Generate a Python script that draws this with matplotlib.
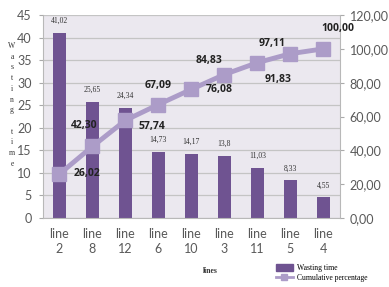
import matplotlib.pyplot as plt
import numpy as np
from matplotlib.patches import Patch
from matplotlib.lines import Line2D

categories = ["line\n2", "line\n8", "line\n12", "line\n6", "line\n10",
              "line\n3", "line\n11", "line\n5", "line\n4"]
wasting_time = [41.02, 25.65, 24.34, 14.73, 14.17, 13.8, 11.03, 8.33, 4.55]
wasting_labels = ["41,02", "25,65", "24,34", "14,73", "14,17", "13,8", "11,03", "8,33", "4,55"]
cumulative = [26.02, 42.30, 57.74, 67.09, 76.08, 84.83, 91.83, 97.11, 100.00]

# label offsets for the cumulative values (pixels), placed like the original
cum_offsets = [(28, 0), (-8, 21), (26, -6), (0, 19), (28, 0),
               (-15, 14), (21, -17), (-18, 10), (15, 20)]

bar_color = "#6f5391"
line_color = "#ac9cc8"
tick_color = "#595959"
font = "Lato"

fig = plt.figure(figsize=(3.89, 2.87), dpi=100)
ax = fig.add_axes([0.1105, 0.2404, 0.763, 0.7073])
ax.set_facecolor("#ebe8ef")
x = np.arange(len(categories))

ax.bar(x, wasting_time, width=0.4, color=bar_color, zorder=2)
ax.set_xlim(-0.5, len(categories) - 0.5)
ax.set_ylim(0, 45)
ax.set_yticks(np.arange(0, 46, 5))
ax.yaxis.grid(True, color="#c4c4c4", linewidth=0.9, zorder=0)
ax.set_axisbelow(True)
ax.set_xticks(x)
ax.set_xticklabels(categories, fontsize=9, color=tick_color, family=font, linespacing=1.3)
ax.tick_params(axis="y", labelsize=9, colors=tick_color, length=3, color="#aaaaaa", pad=5)
ax.tick_params(axis="x", length=0, pad=7)
for lbl in ax.get_yticklabels():
    lbl.set_family(font)
for s in ["top", "right"]:
    ax.spines[s].set_visible(False)
for s in ["left", "bottom"]:
    ax.spines[s].set_color("#b8b8b8")

for xi, v, t in zip(x, wasting_time, wasting_labels):
    ax.annotate(t, (xi, v), xytext=(0, 8), textcoords="offset pixels",
                ha="center", va="bottom", fontsize=5.5, family="Liberation Serif",
                color="#333333")

ax2 = ax.twinx()
ax2.set_ylim(0, 120)
ax2.set_yticks(np.arange(0, 121, 20))
ax2.set_yticklabels([f"{v:.2f}".replace(".", ",") for v in np.arange(0, 121, 20)],
                    fontsize=9, color=tick_color, family=font)
ax2.tick_params(axis="y", length=3, color="#aaaaaa", pad=4)
for s in ["top", "left", "bottom"]:
    ax2.spines[s].set_visible(False)
ax2.spines["right"].set_color("#b8b8b8")
ax2.plot(x, cumulative, color=line_color, linewidth=3.5, marker="s",
         markersize=9.5, zorder=3)
for xi, v, (dx, dy) in zip(x, cumulative, cum_offsets):
    ax2.annotate(f"{v:.2f}".replace(".", ","), (xi, v), xytext=(dx, dy),
                 textcoords="offset pixels", ha="center", va="center",
                 fontsize=7.5, fontweight="bold", family="Open Sans", color="#222222")

# stacked vertical axis title
fig.text(0.031, 1 - 42 / 287, "\n".join("Wasting") + "\n\n" + "\n".join("time"),
         ha="center", va="top", fontsize=5.5, family="Liberation Serif",
         linespacing=1.45, color="#333333")
fig.text(210 / 389, 1 - 271 / 287, "lines", ha="center", va="center",
         fontsize=5.5, fontweight="bold", family="Liberation Serif", color="#333333")

handles = [Patch(color=bar_color),
           Line2D([], [], color=line_color, linewidth=2, marker="s", markersize=4)]
fig.legend(handles, ["Wasting time", "Cumulative percentage"], loc="center left",
           bbox_to_anchor=(272 / 389, 1 - 273 / 287), frameon=False,
           prop={"family": "Liberation Serif", "size": 5.5},
           handlelength=2.2, handleheight=0.9, labelspacing=0.2, borderpad=0,
           handletextpad=0.6)

fig.savefig("out.png", dpi=100)
